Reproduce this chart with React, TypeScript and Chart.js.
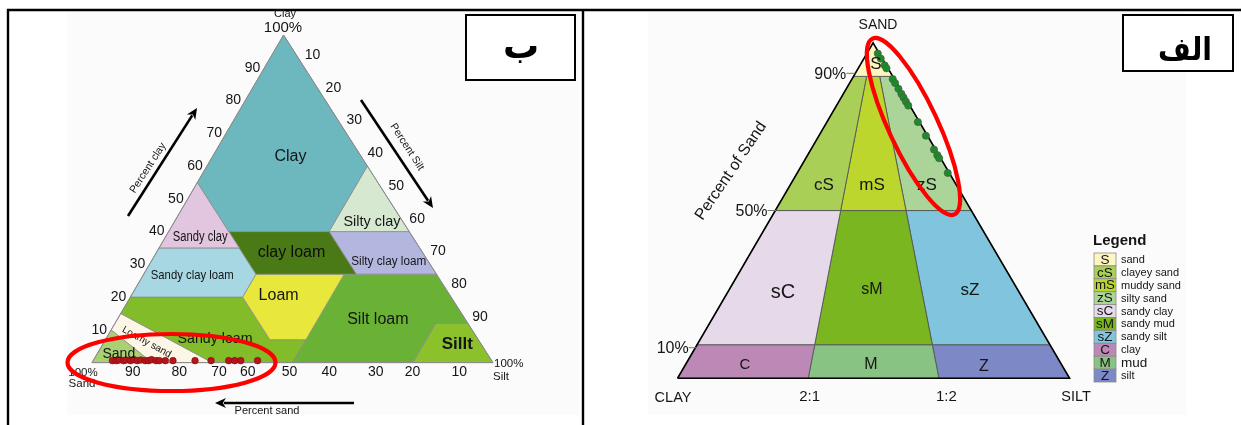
import React, { useEffect, useRef } from 'react';
import { Chart, registerables } from 'chart.js';

Chart.register(...registerables);

type T3 = [number, number, number]; // [sand, silt, clay] in percent

// ---------------- DATA ----------------
// USDA soil texture classes (left panel "ب")
const usdaLabels = ['Clay', 'Sandy clay', 'Silty clay', 'clay loam', 'Silty clay loam', 'Sandy clay loam', 'Loam', 'Silt loam', 'Sillt', 'Sandy loam', 'Loamy sand', 'Sand'];
const usdaColors = ['#6db8be', '#e2c5df', '#d6e9d0', '#4a7a16', '#b3b6df', '#a7d7e2', '#e8e83c', '#69b236', '#8bc12a', '#82bc28', '#fbf6e6', '#a9d072'];
const usdaPolys: T3[][] = [
  [[45, 0, 55], [0, 0, 100], [0, 40, 60], [20, 40, 40], [45, 15, 40]],
  [[65, 0, 35], [45, 0, 55], [45, 20, 35]],
  [[20, 40, 40], [0, 40, 60], [0, 60, 40]],
  [[45, 28, 27], [45, 15, 40], [20, 40, 40], [20, 53, 27]],
  [[20, 53, 27], [20, 40, 40], [0, 60, 40], [0, 73, 27]],
  [[80, 0, 20], [65, 0, 35], [45, 20, 35], [45, 28, 27], [52, 28, 20]],
  [[52, 41, 7], [43, 50, 7], [23, 50, 27], [45, 28, 27], [52, 28, 20]],
  [[50, 50, 0], [20, 80, 0], [8, 80, 12], [0, 88, 12], [0, 73, 27], [23, 50, 27], [43, 50, 7]],
  [[20, 80, 0], [0, 100, 0], [0, 88, 12], [8, 80, 12]],
  [[85, 0, 15], [70, 30, 0], [50, 50, 0], [43, 50, 7], [52, 41, 7], [52, 28, 20], [80, 0, 20]],
  [[90, 0, 10], [85, 0, 15], [70, 30, 0], [85, 15, 0]],
  [[100, 0, 0], [90, 0, 10], [85, 15, 0]],
];

// Folk classes (right panel "الف")
const folkCodes = ['S', 'cS', 'mS', 'zS', 'sC', 'sM', 'sZ', 'C', 'M', 'Z'];
const folkNames = ['sand', 'clayey sand', 'muddy sand', 'silty sand', 'sandy clay', 'sandy mud', 'sandy silt', 'clay', 'mud', 'silt'];
const folkColors = ['#fdf6bf', '#a9cf57', '#bdd62e', '#aad498', '#e6d9ea', '#7ab620', '#80c4dd', '#bc89b6', '#89c383', '#7d89c7'];
const folkPolys: T3[][] = [
  [[100, 0, 0], [90, 0, 10], [90, 10, 0]],
  [[90, 0, 10], [50, 0, 50], [50, 50 / 3, 100 / 3], [90, 10 / 3, 20 / 3]],
  [[90, 10 / 3, 20 / 3], [50, 50 / 3, 100 / 3], [50, 100 / 3, 50 / 3], [90, 20 / 3, 10 / 3]],
  [[90, 20 / 3, 10 / 3], [50, 100 / 3, 50 / 3], [50, 50, 0], [90, 10, 0]],
  [[50, 0, 50], [10, 0, 90], [10, 30, 60], [50, 50 / 3, 100 / 3]],
  [[50, 50 / 3, 100 / 3], [10, 30, 60], [10, 60, 30], [50, 100 / 3, 50 / 3]],
  [[50, 100 / 3, 50 / 3], [10, 60, 30], [10, 90, 0], [50, 50, 0]],
  [[10, 0, 90], [0, 0, 100], [0, 100 / 3, 200 / 3], [10, 30, 60]],
  [[10, 30, 60], [0, 100 / 3, 200 / 3], [0, 200 / 3, 100 / 3], [10, 60, 30]],
  [[10, 60, 30], [0, 200 / 3, 100 / 3], [0, 100, 0], [10, 90, 0]],
];

// Samples plotted on the USDA triangle (red)
const redSand = [94.6, 93.6, 92.8, 91.8, 91.1, 90.1, 89.1, 88.4, 87.4, 86.4, 85.6, 84.7, 83.7, 82.9, 81.4, 79.5, 74.0, 70.0, 65.6, 64.1, 62.6, 58.4];
const redClay = [0.6, 0.6, 0.8, 0.6, 0.8, 0.6, 0.9, 0.6, 0.8, 0.6, 0.6, 0.9, 0.6, 0.6, 0.6, 0.6, 0.6, 0.6, 0.6, 0.6, 0.6, 0.6];
// Samples plotted on the Folk triangle (green)
const greenSand = [96.8, 95.3, 93.3, 92.4, 89.2, 88.0, 86.3, 84.8, 83.7, 82.5, 81.3, 76.4, 72.3, 68.2, 66.5, 65.6, 61.2];
const greenClay = [0.4, 0.4, 0.4, 0.4, 0.4, 0.4, 0.4, 0.4, 0.4, 0.4, 0.4, 0.4, 0.4, 0.4, 0.4, 0.4, 0.4];

// Tick labels
const clayTicks = ['10', '20', '30', '40', '50', '60', '70', '80', '90'];
const siltTicks = ['10', '20', '30', '40', '50', '60', '70', '80', '90'];
const sandTicks = ['90', '80', '70', '60', '50', '40', '30', '20', '10'];
const folkSandTicks = ['90%', '50%', '10%'];
const folkSandLevels = [90, 50, 10];
const folkRatioTicks = ['2:1', '1:2'];

// ---------------- LAYOUT ----------------
const W = 1241;
const H = 425;
const TRI_L = { sand: [88, 366], silt: [492, 366], clay: [281, 31] };
const TRI_R = { sand: [875, 39], silt: [1073, 382], clay: [678, 382] };
const sandTickX = [129, 176, 216, 245, 287, 327, 374, 411, 458];
const FONT = '"Liberation Sans", Arial, Helvetica, sans-serif';

function tern(tri: any, p: T3) {
  const [s, si, c] = p;
  const t = s + si + c;
  return {
    x: (s * tri.sand[0] + si * tri.silt[0] + c * tri.clay[0]) / t,
    y: (s * tri.sand[1] + si * tri.silt[1] + c * tri.clay[1]) / t,
  };
}

function txt(ctx: CanvasRenderingContext2D, s: string, x: number, y: number, size: number, o: any = {}) {
  ctx.save();
  ctx.font = `${o.bold ? 'bold ' : ''}${size}px ${o.family || FONT}`;
  ctx.fillStyle = o.color || '#151515';
  ctx.textAlign = o.align || 'center';
  ctx.textBaseline = o.baseline || 'middle';
  ctx.translate(x, y);
  if (o.rot) ctx.rotate((o.rot * Math.PI) / 180);
  if (o.w) ctx.fillText(s, 0, 0, o.w);
  else ctx.fillText(s, 0, 0);
  ctx.restore();
}

function arrow(ctx: CanvasRenderingContext2D, x1: number, y1: number, x2: number, y2: number) {
  const a = Math.atan2(y2 - y1, x2 - x1);
  const hl = 11, hw = 5;
  ctx.save();
  ctx.strokeStyle = '#000';
  ctx.fillStyle = '#000';
  ctx.lineWidth = 2.6;
  ctx.beginPath();
  ctx.moveTo(x1, y1);
  ctx.lineTo(x2 - Math.cos(a) * hl * 0.8, y2 - Math.sin(a) * hl * 0.8);
  ctx.stroke();
  ctx.beginPath();
  ctx.moveTo(x2, y2);
  ctx.lineTo(x2 - Math.cos(a) * hl - Math.sin(a) * hw, y2 - Math.sin(a) * hl + Math.cos(a) * hw);
  ctx.lineTo(x2 - Math.cos(a) * hl * 0.7, y2 - Math.sin(a) * hl * 0.7);
  ctx.lineTo(x2 - Math.cos(a) * hl + Math.sin(a) * hw, y2 - Math.sin(a) * hl - Math.cos(a) * hw);
  ctx.closePath();
  ctx.fill();
  ctx.restore();
}

// label annotations: [text, x, y, size, width?, bold?]
const usdaLabelPos: [number, number, number, number?][] = [
  [288, 155, 16], [197, 238, 14, 55], [370, 222, 14.5, 57], [289, 253, 16, 69], [387, 263, 12.5, 75],
  [189, 277, 13.5, 83], [276, 297, 16], [376, 322, 16], [456, 347, 17, 36], [212, 342, 15, 75], [143, 345, 10], [115, 357, 14],
];
const folkLabelPos: [number, number, number][] = [
  [876, 64, 17], [824, 185, 17], [872, 185, 17], [927, 185, 17], [783, 292, 20], [872, 290, 16], [970, 290, 17], [745, 365, 15], [871, 365, 16], [984, 367, 16],
];

const decor = {
  id: 'decor',
  beforeDraw(chart: any) {
    const ctx: CanvasRenderingContext2D = chart.ctx;
    ctx.save();
    ctx.fillStyle = '#ffffff';
    ctx.fillRect(0, 0, chart.width, chart.height);
    ctx.fillStyle = '#fbfbfb';
    ctx.fillRect(67, 12, 512, 403);
    ctx.fillRect(648, 12, 538, 403);
    ctx.strokeStyle = '#000';
    ctx.lineWidth = 2.4;
    ctx.beginPath();
    ctx.moveTo(7, 10); ctx.lineTo(W, 10);
    ctx.moveTo(8, 9); ctx.lineTo(8, H);
    ctx.moveTo(583, 9); ctx.lineTo(583, H);
    ctx.stroke();
    ctx.restore();
  },
  afterDatasetsDraw(chart: any) {
    const ctx: CanvasRenderingContext2D = chart.ctx;
    const sx = chart.scales.x, sy = chart.scales.y;
    const P = (x: number, y: number) => [sx.getPixelForValue(x), sy.getPixelForValue(y)];

    // ---- left panel: region labels ----
    usdaLabels.forEach((lab, i) => {
      const [x, y, size, w] = usdaLabelPos[i];
      const [px, py] = P(x, y);
      const rot = lab === 'Loamy sand' ? 29 : 0;
      txt(ctx, lab, px, py, size, { w, bold: lab === 'Sillt', rot, color: lab === 'clay loam' ? '#0d0d0d' : '#151515' });
    });
    // clay ticks (left edge)
    clayTicks.forEach((t, i) => {
      const c = (i + 1) * 10;
      const p = tern(TRI_L, [100 - c, 0, c]);
      const [px, py] = P(p.x - 12, p.y);
      txt(ctx, t, px, py, 14);
    });
    // silt ticks (right edge)
    siltTicks.forEach((t, i) => {
      const s = (i + 1) * 10;
      const p = tern(TRI_L, [0, s, 100 - s]);
      const [px, py] = P(p.x + 8, p.y - 13);
      txt(ctx, t, px, py, 14);
    });
    // sand ticks (bottom)
    sandTicks.forEach((t, i) => {
      const [px, py] = P(sandTickX[i], 376);
      txt(ctx, t, px, py, 14);
    });
    txt(ctx, 'Clay', 285, 14, 11);
    txt(ctx, '100%', 283, 28, 15);
    txt(ctx, '100%', 83, 373, 11.5);
    txt(ctx, 'Sand', 82, 384, 11.5);
    txt(ctx, '100%', 494, 364, 11.5, { align: 'left' });
    txt(ctx, 'Silt', 493, 377, 11.5, { align: 'left' });
    // arrows
    arrow(ctx, 128, 216, 197, 108);
    txt(ctx, 'Percent clay', 148, 168, 10.5, { rot: -57 });
    arrow(ctx, 361, 100, 433, 208);
    txt(ctx, 'Percent Silt', 407, 147, 10.5, { rot: 57 });
    arrow(ctx, 354, 403, 215, 403);
    txt(ctx, 'Percent sand', 267, 411, 11);

    // ---- right panel ----
    folkCodes.forEach((c, i) => {
      const [x, y, size] = folkLabelPos[i];
      txt(ctx, c, x, y, size);
    });
    // sand level ticks
    ctx.save();
    ctx.strokeStyle = '#777';
    ctx.lineWidth = 1;
    folkSandTicks.forEach((t, i) => {
      const s = folkSandLevels[i];
      const e = tern(TRI_R, [s, 0, 100 - s]);
      ctx.beginPath();
      ctx.moveTo(e.x - 9, e.y);
      ctx.lineTo(e.x, e.y);
      ctx.stroke();
      txt(ctx, t, e.x - 9, e.y + 1, 16, { align: 'right' });
    });
    ctx.restore();
    const r21 = tern(TRI_R, [0, 100 / 3, 200 / 3]);
    const r12 = tern(TRI_R, [0, 200 / 3, 100 / 3]);
    txt(ctx, folkRatioTicks[0], r21.x, 397, 15);
    txt(ctx, folkRatioTicks[1], r12.x + 5, 397, 15);
    txt(ctx, 'SAND', 878, 25, 14);
    txt(ctx, 'CLAY', 673, 398, 14.5);
    txt(ctx, 'SILT', 1076, 397, 14.5);
    txt(ctx, 'Percent of Sand', 731, 171, 16, { rot: -56 });

    // legend
    txt(ctx, 'Legend', 1093, 241, 15, { bold: true, align: 'left' });
    const lx = 1094, ly = 253, lw = 22, lh = 12.9;
    folkCodes.forEach((c, i) => {
      const y = ly + i * lh;
      ctx.save();
      ctx.fillStyle = folkColors[i];
      ctx.fillRect(lx, y, lw, lh);
      ctx.strokeStyle = '#8a8a8a';
      ctx.lineWidth = 0.8;
      ctx.strokeRect(lx, y, lw, lh);
      ctx.restore();
      txt(ctx, c, lx + lw / 2, y + lh / 2 + 0.5, 13.5, { w: lw - 2 });
      const nm = folkNames[i];
      txt(ctx, nm, lx + 27, y + lh / 2 + 0.5, nm === 'mud' ? 13.5 : 11, { align: 'left' });
    });

    // red annotation ellipses
    ctx.save();
    ctx.strokeStyle = '#ff0000';
    ctx.lineWidth = 4.2;
    ctx.beginPath();
    ctx.ellipse(171.5, 362.5, 104, 28.5, 0, 0, Math.PI * 2);
    ctx.stroke();
    ctx.beginPath();
    ctx.ellipse(913.5, 126.5, 97, 24.5, (65 * Math.PI) / 180, 0, Math.PI * 2);
    ctx.stroke();
    ctx.restore();

    // title boxes
    ctx.save();
    ctx.strokeStyle = '#000';
    ctx.lineWidth = 2;
    ctx.fillStyle = '#fff';
    ctx.fillRect(466, 15, 109, 65);
    ctx.strokeRect(466, 15, 109, 65);
    ctx.fillRect(1123, 15, 110, 56);
    ctx.strokeRect(1123, 15, 110, 56);
    ctx.restore();
    txt(ctx, 'ب', 521, 58, 36, { bold: true, family: '"DejaVu Sans", sans-serif', baseline: 'alphabetic', color: '#000' });
    txt(ctx, 'الف', 1185, 60, 32, { bold: true, family: '"DejaVu Sans", sans-serif', baseline: 'alphabetic', color: '#000', w: 54 });
  },
};

function polyDataset(pts: T3[], color: string, tri: any, border: string, bw: number) {
  const closed = [...pts, pts[0]];
  return {
    type: 'line' as const,
    data: closed.map((p) => tern(tri, p)),
    borderColor: border,
    borderWidth: bw,
    backgroundColor: color,
    fill: 'shape',
    pointRadius: 0,
    pointHoverRadius: 0,
    tension: 0,
    order: 10,
  };
}

export default function App() {
  const ref = useRef<HTMLCanvasElement | null>(null);
  useEffect(() => {
    if (!ref.current) return;
    const datasets: any[] = [];
    datasets.push({
      type: 'scatter',
      data: redSand.map((s, i) => tern(TRI_L, [s, 100 - s - redClay[i], redClay[i]])),
      backgroundColor: '#b5151b',
      borderColor: '#7e0c0f',
      borderWidth: 0.6,
      pointRadius: 3.3,
      order: 1,
    });
    datasets.push({
      type: 'scatter',
      data: greenSand.map((s, i) => tern(TRI_R, [s, 100 - s - greenClay[i], greenClay[i]])),
      backgroundColor: '#1a8c2c',
      borderColor: '#4d5a3c',
      borderWidth: 0.7,
      pointRadius: 3.6,
      order: 1,
    });
    // triangle outlines
    datasets.push({
      type: 'line',
      data: [[0, 0, 100], [100, 0, 0], [0, 100, 0], [0, 0, 100]].map((p) => tern(TRI_R, p as T3)),
      borderColor: '#000',
      borderWidth: 1.6,
      fill: false,
      pointRadius: 0,
      tension: 0,
      order: 5,
    });
    datasets.push({
      type: 'line',
      data: [[0, 0, 100], [100, 0, 0], [0, 100, 0], [0, 0, 100]].map((p) => tern(TRI_L, p as T3)),
      borderColor: '#8a8a8a',
      borderWidth: 1,
      fill: false,
      pointRadius: 0,
      tension: 0,
      order: 5,
    });
    usdaPolys.forEach((p, i) => datasets.push(polyDataset(p, usdaColors[i], TRI_L, '#8c8c8c', 0.8)));
    folkPolys.forEach((p, i) => datasets.push(polyDataset(p, folkColors[i], TRI_R, '#555555', 0.9)));

    const chart = new Chart(ref.current, {
      type: 'scatter',
      data: { datasets },
      options: {
        responsive: false,
        animation: false,
        devicePixelRatio: 1,
        events: [],
        layout: { padding: 0 },
        scales: {
          x: { type: 'linear', min: 0, max: W, display: false },
          y: { type: 'linear', min: 0, max: H, reverse: true, display: false },
        },
        plugins: { legend: { display: false }, tooltip: { enabled: false } },
      },
      plugins: [decor as any],
    } as any);
    return () => chart.destroy();
  }, []);
  return (
    <div style={{ position: 'fixed', left: 0, top: 0, width: W, height: H, background: '#fff' }}>
      <canvas ref={ref} width={W} height={H} style={{ display: 'block' }} />
    </div>
  );
}
